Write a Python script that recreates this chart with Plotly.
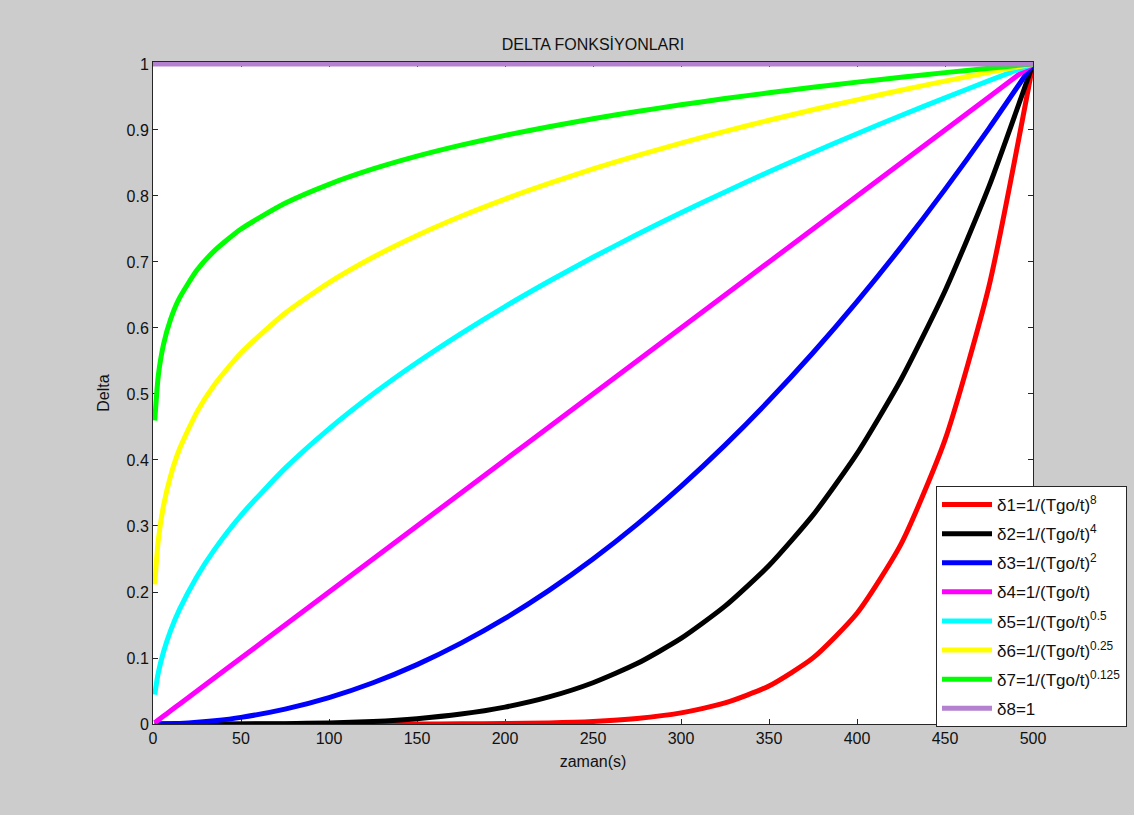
import plotly.graph_objects as go

# time samples (s)
t = [1, 3, 6, 10, 15, 25, 35, 50, 75, 100, 125, 150, 175, 200, 225, 250,
     275, 300, 325, 350, 375, 400, 425, 450, 475, 500]

d1 = [0, 0, 0, 0, 0, 0, 0, 0, 0, 0, 0, 0, 0.0002, 0.0007, 0.0017, 0.0039,
      0.0084, 0.0168, 0.0319, 0.0576, 0.1001, 0.1678, 0.2725, 0.4305, 0.6634, 1.0]
d2 = [0, 0, 0, 0, 0, 0, 0, 0.0001, 0.0005, 0.0016, 0.0039, 0.0081, 0.015, 0.0256,
      0.041, 0.0625, 0.0915, 0.1296, 0.1785, 0.2401, 0.3164, 0.4096, 0.522,
      0.6561, 0.8145, 1.0]
d3 = [0, 0, 0.0001, 0.0004, 0.0009, 0.0025, 0.0049, 0.01, 0.0225, 0.04, 0.0625,
      0.09, 0.1225, 0.16, 0.2025, 0.25, 0.3025, 0.36, 0.4225, 0.49, 0.5625,
      0.64, 0.7225, 0.81, 0.9025, 1.0]
d4 = [0.002, 0.006, 0.012, 0.02, 0.03, 0.05, 0.07, 0.1, 0.15, 0.2, 0.25, 0.3,
      0.35, 0.4, 0.45, 0.5, 0.55, 0.6, 0.65, 0.7, 0.75, 0.8, 0.85, 0.9, 0.95, 1.0]
d5 = [0.0447, 0.0775, 0.1095, 0.1414, 0.1732, 0.2236, 0.2646, 0.3162, 0.3873,
      0.4472, 0.5, 0.5477, 0.5916, 0.6325, 0.6708, 0.7071, 0.7416, 0.7746,
      0.8062, 0.8367, 0.866, 0.8944, 0.922, 0.9487, 0.9747, 1.0]
d6 = [0.2115, 0.2783, 0.331, 0.376, 0.4162, 0.4729, 0.5144, 0.5623, 0.6223,
      0.6687, 0.7071, 0.7401, 0.7692, 0.7953, 0.819, 0.8409, 0.8612, 0.8801,
      0.8979, 0.9147, 0.9306, 0.9457, 0.9602, 0.974, 0.9873, 1.0]
d7 = [0.4599, 0.5275, 0.5753, 0.6132, 0.6451, 0.6877, 0.7172, 0.7499, 0.7889,
      0.8177, 0.8409, 0.8603, 0.877, 0.8918, 0.905, 0.917, 0.928, 0.9381,
      0.9476, 0.9564, 0.9647, 0.9725, 0.9799, 0.9869, 0.9936, 1.0]
t8 = [0, 500]
d8 = [1, 1]

names = [
    "δ1=1/(Tgo/t)<sup>8</sup>",
    "δ2=1/(Tgo/t)<sup>4</sup>",
    "δ3=1/(Tgo/t)<sup>2</sup>",
    "δ4=1/(Tgo/t)",
    "δ5=1/(Tgo/t)<sup>0.5</sup>",
    "δ6=1/(Tgo/t)<sup>0.25</sup>",
    "δ7=1/(Tgo/t)<sup>0.125</sup>",
    "δ8=1",
]
colors = ["#ff0000", "#000000", "#0000ff", "#ff00ff", "#00ffff", "#ffff00",
          "#00ff00", "#b381cf"]
series = [(t, d1), (t, d2), (t, d3), (t, d4), (t, d5), (t, d6), (t, d7), (t8, d8)]

FONT = "Liberation Sans, Arial, sans-serif"
FS = 16

fig = go.Figure()
for i, ((x, y), n, c) in enumerate(zip(series, names, colors)):
    fig.add_trace(go.Scatter(
        x=x, y=y, mode="lines", name=n, legendgroup=f"g{i}",
        line=dict(color=c, width=5, shape="spline", smoothing=0.6),
    ))

axis_common = dict(
    showline=True, linecolor="#262626", linewidth=1, mirror="ticks",
    ticks="inside", ticklen=5, tickcolor="#262626", tickwidth=1,
    showgrid=False, zeroline=False,
    tickfont=dict(family=FONT, size=FS, color="#111111"),
    layer="below traces",
)

fig.update_layout(
    width=1134, height=815,
    paper_bgcolor="#cccccc", plot_bgcolor="#ffffff",
    margin=dict(l=153, r=101, t=62, b=91, autoexpand=False),
    title=dict(text="DELTA FONKSİYONLARI", x=593 / 1134, xanchor="center",
               y=1 - 44 / 815, yanchor="middle",
               font=dict(family=FONT, size=FS, color="#111111")),
    xaxis=dict(range=[0, 500], tickvals=[0, 50, 100, 150, 200, 250, 300, 350, 400, 450, 500],
               title=dict(text="zaman(s)", standoff=9,
                          font=dict(family=FONT, size=FS, color="#111111")),
               **axis_common),
    yaxis=dict(range=[0, 1.003], tickvals=[0, 0.1, 0.2, 0.3, 0.4, 0.5, 0.6, 0.7, 0.8, 0.9, 1],
               ticktext=["0", "0.1", "0.2", "0.3", "0.4", "0.5", "0.6", "0.7", "0.8", "0.9", "1"],
               title=dict(text="Delta", standoff=12,
                          font=dict(family=FONT, size=FS, color="#111111")),
               **axis_common),
    legend=dict(
        x=(936 - 153) / 880, y=(724 - 486) / 662, xanchor="left", yanchor="top",
        bgcolor="#ffffff", bordercolor="#262626", borderwidth=1,
        font=dict(family=FONT, size=17, color="#111111"),
        itemwidth=50, tracegroupgap=4, traceorder="grouped",
    ),
    showlegend=True,
)

fig.write_html("out.html")
